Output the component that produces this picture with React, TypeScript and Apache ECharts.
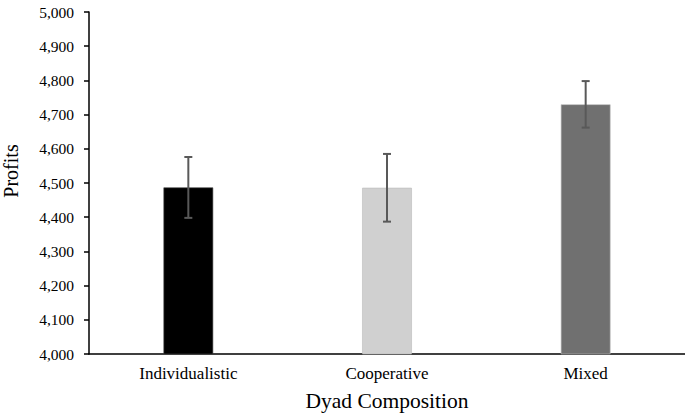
import React, { useEffect, useRef } from "react";
import * as echarts from "echarts";

const categories = ["Individualistic", "Cooperative", "Mixed"];
const means = [4487, 4486, 4730];
const errLow = [4398, 4387, 4662];
const errHigh = [4576, 4585, 4798];
const barColors = ["#000000", "#d0d0d0", "#707070"];
const yTitle = "Profits";
const xTitle = "Dyad Composition";

export default function App() {
  const ref = useRef<HTMLDivElement>(null);
  useEffect(() => {
    document.body.style.margin = "0";
    const chart = echarts.init(ref.current!, null, { renderer: "svg" });
    const font = "'Liberation Serif', 'Times New Roman', serif";
    chart.setOption({
      animation: false,
      grid: { left: 89, right: 0, top: 12, bottom: 63 },
      graphic: [
        {
          type: "text",
          x: 11,
          y: 171,
          rotation: Math.PI / 2,
          style: {
            text: yTitle,
            font: `20px ${font}`,
            fill: "#000",
            align: "center",
            verticalAlign: "middle",
          },
        },
      ],
      xAxis: {
        type: "category",
        data: categories,
        name: xTitle,
        nameLocation: "middle",
        nameGap: 36,
        nameTextStyle: { fontFamily: font, fontSize: 21.5, color: "#000" },
        axisLine: { lineStyle: { color: "#000", width: 1.5 } },
        axisTick: { show: false },
        axisLabel: { fontFamily: font, fontSize: 17, color: "#000", margin: 11 },
      },
      yAxis: {
        type: "value",
        min: 4000,
        max: 5000,
        interval: 100,
        axisLine: { show: true, lineStyle: { color: "#000", width: 1.5 } },
        axisTick: { show: true, length: 5, lineStyle: { color: "#000", width: 1.5 } },
        splitLine: { show: false },
        axisLabel: {
          fontFamily: font,
          fontSize: 15.5,
          color: "#000",
          margin: 15,
          formatter: (v: number) => v.toLocaleString("en-US"),
        },
      },
      series: [
        {
          type: "bar",
          barWidth: "25%",
          data: means.map((v, i) => ({
            value: v,
            itemStyle: { color: barColors[i], borderColor: i === 0 ? "#444" : "#bbb", borderWidth: 0.6 },
          })),
        },
        {
          type: "custom",
          data: categories.map((c, i) => [i, errLow[i], errHigh[i]]),
          renderItem: (params: any, api: any) => {
            const x = api.value(0);
            const lo = api.coord([x, api.value(1)]);
            const hi = api.coord([x, api.value(2)]);
            const hw = 4;
            const style = { stroke: "#595959", lineWidth: 2 };
            return {
              type: "group",
              children: [
                { type: "line", shape: { x1: lo[0], y1: lo[1], x2: hi[0], y2: hi[1] }, style },
                { type: "line", shape: { x1: lo[0] - hw, y1: lo[1], x2: lo[0] + hw, y2: lo[1] }, style },
                { type: "line", shape: { x1: hi[0] - hw, y1: hi[1], x2: hi[0] + hw, y2: hi[1] }, style },
              ],
            };
          },
          z: 10,
        },
      ],
    });
    return () => chart.dispose();
  }, []);
  return <div ref={ref} style={{ width: 685, height: 417 }} />;
}
